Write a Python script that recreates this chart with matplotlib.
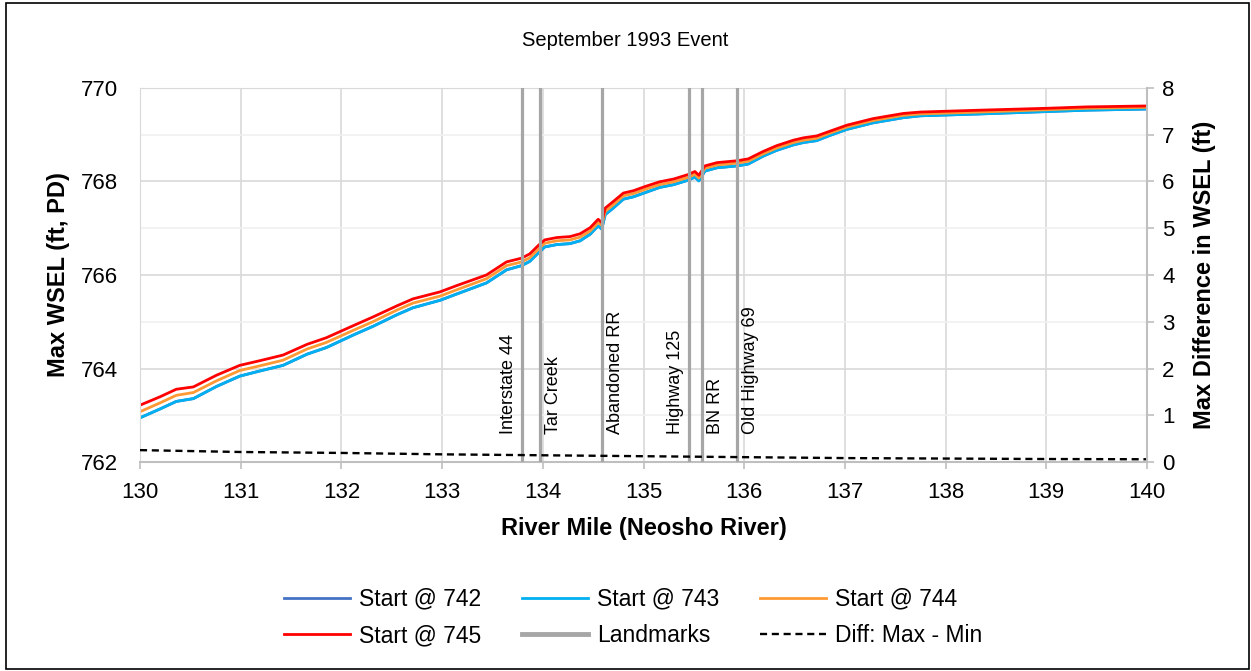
import numpy as np
import matplotlib.pyplot as plt
from matplotlib.patches import Rectangle

plt.rcParams['font.family'] = ['Liberation Sans', 'DejaVu Sans']

# River mile stations (Neosho River)
river_mile = [130.00, 130.20, 130.36, 130.53, 130.76, 130.99, 131.19, 131.42, 131.66, 131.85,
              132.12, 132.32, 132.55, 132.71, 132.98, 133.14, 133.44, 133.64, 133.79, 133.87,
              133.96, 134.02, 134.14, 134.27, 134.37, 134.47, 134.55, 134.585, 134.62, 134.70,
              134.80, 134.90, 135.03, 135.16, 135.30, 135.45, 135.51, 135.55, 135.61, 135.73,
              135.93, 136.04, 136.19, 136.32, 136.49, 136.59, 136.72, 136.85, 137.02, 137.28,
              137.58, 137.75, 138.34, 139.00, 139.40, 140.00]

# Max WSEL for each starting water surface (ft, PD)
start_745 = [763.22, 763.40, 763.56, 763.61, 763.86, 764.07, 764.17, 764.29, 764.52, 764.66,
             764.92, 765.11, 765.34, 765.49, 765.64, 765.77, 766.00, 766.28, 766.36, 766.45,
             766.64, 766.75, 766.80, 766.82, 766.88, 767.01, 767.19, 767.12, 767.43, 767.57,
             767.75, 767.80, 767.90, 767.99, 768.05, 768.15, 768.21, 768.13, 768.33, 768.40,
             768.44, 768.48, 768.64, 768.76, 768.88, 768.93, 768.97, 769.07, 769.20, 769.34,
             769.45, 769.48, 769.52, 769.56, 769.59, 769.61]
start_744 = [763.08, 763.27, 763.43, 763.49, 763.74, 763.96, 764.06, 764.18, 764.42, 764.56,
             764.82, 765.01, 765.25, 765.40, 765.55, 765.68, 765.92, 766.20, 766.28, 766.37,
             766.56, 766.68, 766.73, 766.75, 766.81, 766.94, 767.12, 767.06, 767.36, 767.50,
             767.69, 767.74, 767.84, 767.93, 767.99, 768.09, 768.15, 768.07, 768.28, 768.35,
             768.39, 768.43, 768.59, 768.71, 768.83, 768.88, 768.92, 769.03, 769.16, 769.30,
             769.41, 769.44, 769.48, 769.53, 769.56, 769.58]
start_743 = [762.95, 763.14, 763.30, 763.36, 763.62, 763.84, 763.95, 764.07, 764.31, 764.45,
             764.72, 764.91, 765.15, 765.30, 765.46, 765.59, 765.83, 766.11, 766.20, 766.29,
             766.48, 766.60, 766.65, 766.67, 766.73, 766.87, 767.05, 766.98, 767.29, 767.43,
             767.62, 767.67, 767.77, 767.87, 767.93, 768.03, 768.09, 768.01, 768.22, 768.29,
             768.33, 768.37, 768.54, 768.66, 768.78, 768.83, 768.87, 768.98, 769.11, 769.25,
             769.36, 769.40, 769.44, 769.49, 769.52, 769.545]
# 742 plots underneath 743 (practically identical)
start_742 = list(start_743)

# Max - Min difference (ft)
diff_mile = [130, 131, 132, 133, 134, 135, 136, 137, 138, 139, 140]
diff_val = [0.26, 0.22, 0.20, 0.17, 0.15, 0.13, 0.11, 0.09, 0.08, 0.07, 0.065]

# Landmarks
landmark_names = ['Interstate 44', 'Tar Creek', 'Abandoned RR', 'Highway 125', 'BN RR', 'Old Highway 69']
landmark_mile = [133.79, 133.97, 134.59, 135.45, 135.58, 135.93]
label_side = ['left', 'right', 'right', 'left', 'right', 'right']

fig = plt.figure(figsize=(12.51, 6.71), dpi=100)
ax = fig.add_axes([140 / 1251, 1 - 462.3 / 671, (1147 - 140) / 1251, (462.3 - 87.7) / 671])
ax2 = ax.twinx()

grid_c = '#D9D9D9'
axis_c = '#BFBFBF'

ax.plot(river_mile, start_742, color='#4472C4', lw=2.0, label='Start @ 742')
ax.plot(river_mile, start_743, color='#00B0F0', lw=2.0, label='Start @ 743')
ax.plot(river_mile, start_744, color='#FF9933', lw=2.0, label='Start @ 744')
ax.plot(river_mile, start_745, color='#FF0000', lw=2.0, label='Start @ 745')

for i, (name, m) in enumerate(zip(landmark_names, landmark_mile)):
    ln = ax.axvline(m, color='#A6A6A6', lw=2.3, zorder=5)
    if i == 0:
        ln.set_label('Landmarks')
    if label_side[i] == 'left':
        ax.text(m - 0.045, 762.6, name, rotation=90, ha='right', va='bottom', fontsize=13, zorder=6)
    else:
        ax.text(m + 0.05, 762.6, name, rotation=90, ha='left', va='bottom', fontsize=13, zorder=6)

ax2.plot(diff_mile, diff_val, color='black', lw=1.7, ls=(0, (3, 2)), label='Diff: Max - Min')

ax.set_xlim(130, 140)
ax.set_ylim(762, 770)
ax2.set_ylim(0, 8)
ax.set_xticks(range(130, 141))
ax.set_yticks(range(762, 771, 2))
ax.set_yticks(range(763, 770, 2), minor=True)
ax2.set_yticks(range(0, 9))

ax.grid(which='major', color=grid_c, lw=1.2)
ax.grid(which='minor', axis='y', color='#F0F0F0', lw=1.2)
ax.set_axisbelow(True)

ax.tick_params(axis='x', direction='out', length=5, width=1.2, color=axis_c, labelsize=16, pad=9)
ax.tick_params(axis='y', which='both', length=0, labelsize=16, pad=16)
ax2.tick_params(axis='y', direction='out', length=5, width=1.2, color=axis_c, labelsize=16, pad=6)

for sp in ['top', 'left']:
    ax.spines[sp].set_color(grid_c)
    ax2.spines[sp].set_visible(False)
ax.spines['bottom'].set_color(axis_c)
ax.spines['bottom'].set_linewidth(1.5)
ax.spines['right'].set_visible(False)
ax2.spines['bottom'].set_visible(False)
ax2.spines['right'].set_color(axis_c)
ax2.spines['right'].set_linewidth(1.5)

fig.text(0.5, 1 - 40 / 671, 'September 1993 Event', ha='center', va='center', fontsize=14.5)
fig.text(643.5 / 1251, 1 - 528 / 671, 'River Mile (Neosho River)', ha='center', va='center',
         fontsize=17, fontweight='bold')
fig.text(58 / 1251, 1 - 275 / 671, 'Max WSEL (ft, PD)', ha='center', va='center', rotation=90,
         fontsize=17, fontweight='bold')
fig.text(1205 / 1251, 1 - 275 / 671, 'Max Difference in WSEL (ft)', ha='center', va='center',
         rotation=90, fontsize=17, fontweight='bold')

# legend is filled column by column, so reorder to get the row layout
h1, l1 = ax.get_legend_handles_labels()
h2, l2 = ax2.get_legend_handles_labels()
hd = dict(zip(l1 + l2, h1 + h2))
order = ['Start @ 742', 'Start @ 745', 'Start @ 743', 'Landmarks', 'Start @ 744', 'Diff: Max - Min']
leg = fig.legend([hd[k] for k in order], order, loc='center', bbox_to_anchor=(0.506, 1 - 617.5 / 671),
                 ncol=3, frameon=False, fontsize=16.5, handlelength=2.9, handletextpad=0.4,
                 columnspacing=1.75, labelspacing=0.6)
for lh in leg.get_lines():
    if lh.get_label() == 'Landmarks':
        lh.set_linewidth(3.5)

fig.patches.append(Rectangle((6 / 1251, 2 / 671), 1243 / 1251, 666 / 671, transform=fig.transFigure,
                             fill=False, ec='black', lw=1.2))

fig.savefig('out.png', dpi=100)
